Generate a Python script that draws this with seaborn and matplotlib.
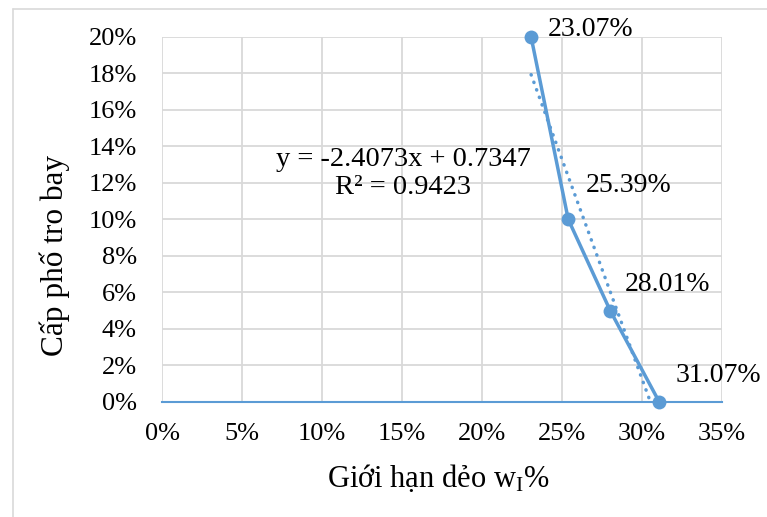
import numpy as np
import pandas as pd
import seaborn as sns
import matplotlib.pyplot as plt
from matplotlib.lines import Line2D
from matplotlib.ticker import FuncFormatter

# Liquid limit (fraction) vs. fly-ash content (fraction)
liquid_limit = [0.2307, 0.2539, 0.2801, 0.3107]
fly_ash = [0.20, 0.10, 0.05, 0.00]
point_labels = ["23.07%", "25.39%", "28.01%", "31.07%"]

# Linear trendline
trend_slope = -2.4073
trend_intercept = 0.7347
trend_r2 = 0.9423

x_ticks = [0.00, 0.05, 0.10, 0.15, 0.20, 0.25, 0.30, 0.35]
y_ticks = [0.00, 0.02, 0.04, 0.06, 0.08, 0.10, 0.12, 0.14, 0.16, 0.18, 0.20]

BLUE = "#5B9BD5"
GRID = "#D9D9D9"

sns.set_theme(style="white")
plt.rcParams["font.family"] = ["Liberation Serif", "DejaVu Serif"]
plt.rcParams["mathtext.fontset"] = "custom"
plt.rcParams["mathtext.rm"] = "Liberation Serif"
plt.rcParams["mathtext.it"] = "Liberation Serif:italic"

W, H = 767, 517
fig = plt.figure(figsize=(W / 100, H / 100), dpi=100)
fig.patch.set_facecolor("white")

# chart-area frame (left and top edges)
fig.add_artist(Line2D([12.5 / W, 12.5 / W], [0, 1 - 8.5 / H], color=GRID, lw=1.2,
                      transform=fig.transFigure))
fig.add_artist(Line2D([12.5 / W, 1], [1 - 8.5 / H, 1 - 8.5 / H], color=GRID, lw=1.2,
                      transform=fig.transFigure))

left, right, top, bottom = 162, 722, 37, 401.7
ax = fig.add_axes([left / W, 1 - bottom / H, (right - left) / W, (bottom - top) / H])

df = pd.DataFrame({"wl": liquid_limit, "fa": fly_ash})

# trendline, clipped at the x axis
tx = np.array([min(liquid_limit), max(liquid_limit)])
ty = trend_slope * tx + trend_intercept
ax.plot(tx, ty, color=BLUE, lw=2.5, ls=(0, (0.1, 2.2)), dash_capstyle="round", zorder=3)

sns.lineplot(data=df, x="wl", y="fa", ax=ax, color=BLUE, lw=2.5, marker="o",
             markersize=10, markeredgewidth=0, sort=False, clip_on=False, zorder=4)

offsets = [(17, 7), (18, 34), (15, 26), (16, 26)]
for xv, yv, lab, off in zip(liquid_limit, fly_ash, point_labels, offsets):
    ax.annotate(lab, (xv, yv), xytext=off, textcoords="offset pixels",
                ha="left", va="center", fontsize=20, color="black",
                annotation_clip=False)

ax.text(0.1506, 0.1249,
        f"y = {trend_slope:.4f}x + {trend_intercept:.4f}\nR² = {trend_r2:.4f}",
        ha="center", va="center", multialignment="center", fontsize=20.5,
        linespacing=1.16, color="black")

ax.set_xlim(0, 0.35)
ax.set_ylim(0, 0.20)
ax.set_xticks(x_ticks)
ax.set_yticks(y_ticks)
ax.xaxis.set_major_formatter(FuncFormatter(lambda v, p: f"{v * 100:.0f}%"))
ax.yaxis.set_major_formatter(FuncFormatter(lambda v, p: f"{v * 100:.0f}%"))
ax.tick_params(axis="both", length=0, labelsize=19, colors="black")
ax.tick_params(axis="x", pad=15)
ax.tick_params(axis="y", pad=18)
ax.grid(True, color=GRID, lw=1.3)
ax.set_axisbelow(True)
for side in ["top", "right", "left"]:
    ax.spines[side].set_visible(False)
ax.spines["bottom"].set_color(BLUE)
ax.spines["bottom"].set_linewidth(1.5)
ax.spines["bottom"].set_zorder(2)
ax.set_xlabel("")
ax.set_ylabel("")

fig.text(438 / W, 1 - 487 / H, "Giới hạn dẻo w$_\\mathregular{I}$%", ha="center", va="baseline",
         fontsize=22, color="black")
fig.text(55 / W, 1 - 256 / H, "Cấp phố tro bay", rotation=90, ha="center", va="center",
         fontsize=22.5, color="black")

fig.savefig("out.png", dpi=100, facecolor="white")
